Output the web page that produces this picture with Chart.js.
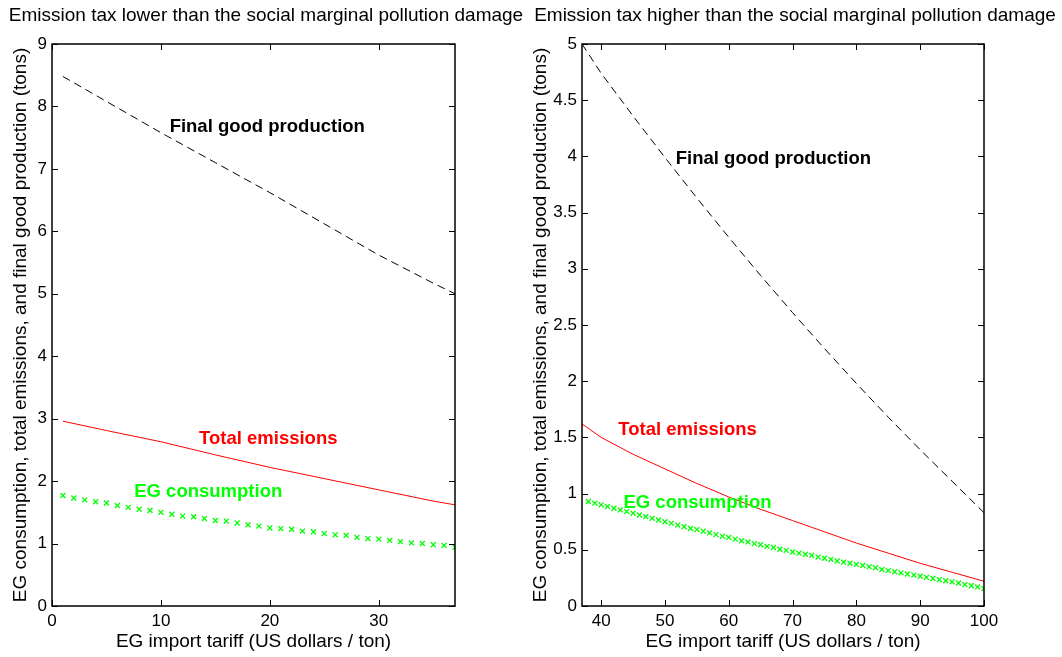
<!DOCTYPE html>
<html>
<head>
<meta charset="utf-8">
<script src="https://cdn.jsdelivr.net/npm/chart.js@4/dist/chart.umd.min.js"></script>
<style>
  body { margin: 0; background: #fff; width: 1062px; height: 657px; position: relative; overflow: hidden;
         font-family: "Liberation Sans", Arial, sans-serif; }
  canvas { position: absolute; top: 0; }
  .title { position: absolute; top: 4px; font-size: 19px; line-height: 22px; color: #000;
           white-space: nowrap; transform: translateX(-50%); }
</style>
</head>
<body>
<canvas id="lowChart" width="520" height="657" style="left:0"></canvas>
<canvas id="highChart" width="542" height="657" style="left:520px"></canvas>
<div class="title" style="left:266px">Emission tax lower than the social marginal pollution damage</div>
<div class="title" style="left:795px">Emission tax higher than the social marginal pollution damage</div>
<script>
// ---- left panel: emission tax lower than marginal damage ----
const tariffLow = [1, 2, 3, 4, 5, 6, 7, 8, 9, 10, 11, 12, 13, 14, 15, 16, 17, 18, 19, 20,
                   21, 22, 23, 24, 25, 26, 27, 28, 29, 30, 31, 32, 33, 34, 35, 36, 37];
const consumptionLow = [1.77, 1.73, 1.70, 1.67, 1.65, 1.61, 1.58, 1.55, 1.53, 1.50,
                        1.47, 1.44, 1.43, 1.40, 1.37, 1.36, 1.33, 1.30, 1.28, 1.25,
                        1.24, 1.23, 1.20, 1.19, 1.16, 1.14, 1.13, 1.10, 1.08, 1.07,
                        1.05, 1.03, 1.01, 1.00, 0.98, 0.97, 0.94];
const tariffLowLine = [1, 5, 10, 15, 20, 25, 30, 35, 37];
const productionLow = [8.48, 8.08, 7.58, 7.10, 6.62, 6.12, 5.62, 5.17, 5.00];
const emissionsLow = [2.96, 2.81, 2.63, 2.42, 2.22, 2.04, 1.86, 1.68, 1.62];
const xTicksLow = [0, 10, 20, 30];
const yTicksLow = [0, 1, 2, 3, 4, 5, 6, 7, 8, 9];

// ---- right panel: emission tax higher than marginal damage ----
const tariffHigh = [38, 39, 40, 41, 42, 43, 44, 45, 46, 47, 48, 49, 50, 51, 52, 53, 54, 55, 56, 57,
                    58, 59, 60, 61, 62, 63, 64, 65, 66, 67, 68, 69, 70, 71, 72, 73, 74, 75, 76, 77,
                    78, 79, 80, 81, 82, 83, 84, 85, 86, 87, 88, 89, 90, 91, 92, 93, 94, 95, 96, 97,
                    98, 99, 100];
const consumptionHigh = [0.93, 0.915, 0.90, 0.885, 0.87, 0.855, 0.84, 0.825, 0.81, 0.795,
                         0.78, 0.765, 0.75, 0.735, 0.72, 0.705, 0.69, 0.68, 0.665, 0.65,
                         0.635, 0.62, 0.61, 0.595, 0.58, 0.57, 0.555, 0.545, 0.53, 0.52,
                         0.505, 0.495, 0.48, 0.47, 0.46, 0.45, 0.435, 0.425, 0.415, 0.40,
                         0.39, 0.38, 0.37, 0.36, 0.35, 0.34, 0.325, 0.315, 0.305, 0.295,
                         0.285, 0.275, 0.265, 0.255, 0.245, 0.235, 0.225, 0.215, 0.205, 0.19,
                         0.18, 0.17, 0.155];
const tariffHighLine = [37, 40, 45, 50, 55, 60, 65, 70, 75, 80, 85, 90, 95, 100];
const productionHigh = [5.00, 4.74, 4.36, 3.99, 3.63, 3.28, 2.94, 2.61, 2.29, 1.98, 1.68, 1.39, 1.11, 0.83];
const emissionsHigh = [1.62, 1.50, 1.35, 1.22, 1.09, 0.97, 0.86, 0.76, 0.66, 0.56, 0.47, 0.38, 0.30, 0.22];
const xTicksHigh = [40, 50, 60, 70, 80, 90, 100];
const yTicksHigh = [0, 0.5, 1, 1.5, 2, 2.5, 3, 3.5, 4, 4.5, 5];

const pts = (xs, ys) => xs.map((x, i) => ({ x: x, y: ys[i] }));
const FONT = '"Liberation Sans", Arial, sans-serif';
Chart.defaults.font.family = FONT;
Chart.defaults.color = '#000';

// matlab-like box with inward ticks on all sides, plus text labels at data coords
const matlabFrame = {
    id: 'matlabFrame',
    afterDatasetsDraw(chart, args, opts) {
        const { ctx, chartArea: a, scales: { x, y } } = chart;
        ctx.save();
        ctx.strokeStyle = '#000';
        ctx.lineWidth = 1;
        ctx.beginPath();
        x.ticks.forEach(t => {
            const px = Math.round(x.getPixelForValue(t.value)) + 0.5;
            ctx.moveTo(px, a.bottom); ctx.lineTo(px, a.bottom - 6);
            ctx.moveTo(px, a.top); ctx.lineTo(px, a.top + 6);
        });
        y.ticks.forEach(t => {
            const py = Math.round(y.getPixelForValue(t.value)) + 0.5;
            ctx.moveTo(a.left, py); ctx.lineTo(a.left + 6, py);
            ctx.moveTo(a.right, py); ctx.lineTo(a.right - 6, py);
        });
        ctx.stroke();
        ctx.lineWidth = 1.5;
        ctx.strokeRect(a.left, a.top, a.right - a.left, a.bottom - a.top);

        ctx.font = 'bold 18.5px ' + FONT;
        ctx.textAlign = 'left';
        ctx.textBaseline = 'middle';
        (opts.labels || []).forEach(l => {
            ctx.fillStyle = l.color;
            ctx.fillText(l.text, x.getPixelForValue(l.x), y.getPixelForValue(l.y));
        });
        ctx.restore();
    }
};

function axes(xMin, xMax, xTicks, yMax, yTicks, yWidth) {
    return {
        x: {
            type: 'linear', min: xMin, max: xMax,
            afterBuildTicks: s => { s.ticks = xTicks.map(v => ({ value: v })); },
            afterFit: s => { s.height = 51; },
            grid: { display: false, drawTicks: false },
            border: { display: false },
            ticks: { font: { size: 17 }, padding: 5, maxRotation: 0, callback: v => String(v) },
            title: { display: true, text: 'EG import tariff (US dollars / ton)', font: { size: 19 },
                     padding: { top: 0, bottom: 4 } }
        },
        y: {
            type: 'linear', min: 0, max: yMax,
            afterBuildTicks: s => { s.ticks = yTicks.map(v => ({ value: v })); },
            afterFit: s => { s.width = yWidth; },
            grid: { display: false, drawTicks: false },
            border: { display: false },
            ticks: { font: { size: 17 }, padding: 5, callback: v => String(v) },
            title: { display: true, text: 'EG consumption, total emissions, and final good production (tons)',
                     font: { size: 19 }, padding: { top: 9, bottom: 0 } }
        }
    };
}

const lowChart = new Chart(document.getElementById('lowChart'), {
    type: 'scatter',
    data: {
        datasets: [{
            label: 'Final good production',
            data: pts(tariffLowLine, productionLow),
            showLine: true, borderColor: '#000', borderWidth: 1, borderDash: [8, 5], pointRadius: 0
        }, {
            label: 'Total emissions',
            data: pts(tariffLowLine, emissionsLow),
            showLine: true, borderColor: '#ff0000', borderWidth: 1, pointRadius: 0
        }, {
            label: 'EG consumption',
            data: pts(tariffLow, consumptionLow),
            showLine: false, pointStyle: 'crossRot', pointRadius: 3.5,
            borderColor: '#00ff00', backgroundColor: '#00ff00', pointBorderWidth: 1.3
        }]
    },
    options: {
        responsive: false,
        animation: false,
        events: [],
        layout: { padding: { left: 0, top: 44, right: 65, bottom: 0 } },
        plugins: {
            legend: { display: false },
            tooltip: { enabled: false },
            matlabFrame: {
                labels: [
                    { text: 'Final good production', x: 10.8, y: 7.68, color: '#000' },
                    { text: 'Total emissions', x: 13.5, y: 2.68, color: '#ff0000' },
                    { text: 'EG consumption', x: 7.55, y: 1.82, color: '#00ff00' }
                ]
            }
        },
        scales: axes(0, 37, xTicksLow, 9, yTicksLow, 52)
    },
    plugins: [matlabFrame]
});

const highChart = new Chart(document.getElementById('highChart'), {
    type: 'scatter',
    data: {
        datasets: [{
            label: 'Final good production',
            data: pts(tariffHighLine, productionHigh),
            showLine: true, borderColor: '#000', borderWidth: 1, borderDash: [8, 5], pointRadius: 0
        }, {
            label: 'Total emissions',
            data: pts(tariffHighLine, emissionsHigh),
            showLine: true, borderColor: '#ff0000', borderWidth: 1, pointRadius: 0
        }, {
            label: 'EG consumption',
            data: pts(tariffHigh, consumptionHigh),
            showLine: false, pointStyle: 'crossRot', pointRadius: 3.5,
            borderColor: '#00ff00', backgroundColor: '#00ff00', pointBorderWidth: 1.3
        }]
    },
    options: {
        responsive: false,
        animation: false,
        events: [],
        layout: { padding: { left: 0, top: 44, right: 78, bottom: 0 } },
        plugins: {
            legend: { display: false },
            tooltip: { enabled: false },
            matlabFrame: {
                labels: [
                    { text: 'Final good production', x: 51.7, y: 3.98, color: '#000' },
                    { text: 'Total emissions', x: 42.7, y: 1.57, color: '#ff0000' },
                    { text: 'EG consumption', x: 43.5, y: 0.92, color: '#00ff00' }
                ]
            }
        },
        scales: axes(37, 100, xTicksHigh, 5, yTicksHigh, 62)
    },
    plugins: [matlabFrame]
});
</script>
</body>
</html>
